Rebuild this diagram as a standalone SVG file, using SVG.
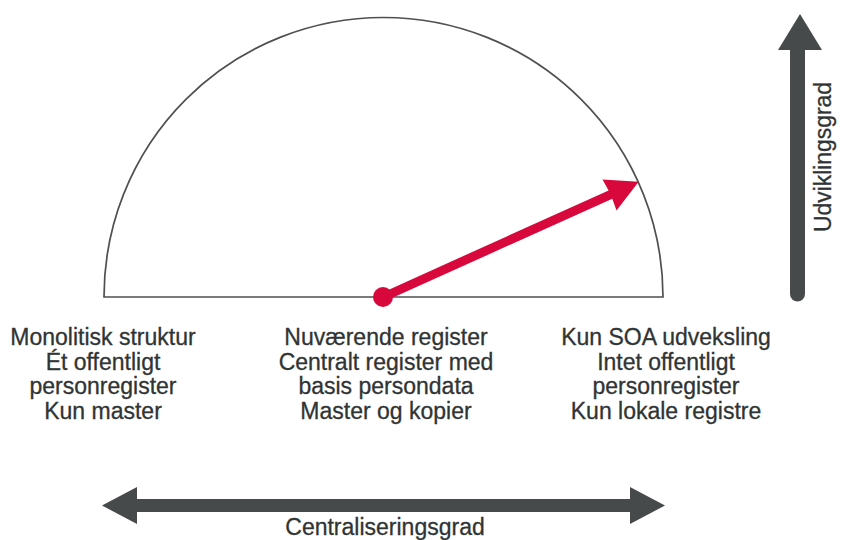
<svg xmlns="http://www.w3.org/2000/svg" width="841" height="540" viewBox="0 0 841 540">
  <style>
    .lbl { font-family: "Liberation Sans", Arial, sans-serif; font-size: 23px; fill: #303434; stroke: #303434; stroke-width: 0.3; text-anchor: middle; }
    .axis { fill: #464a4a; }
    .gauge { fill: none; stroke: #505050; stroke-width: 1.7; }
    .needle { fill: #d8083c; }
  </style>
  <rect width="841" height="540" fill="#ffffff"/>

  <!-- half-circle gauge -->
  <g id="gauge">
    <path class="gauge" d="M104 297 A279.5 279.5 0 0 1 663 297 Z"/>
  </g>

  <!-- needle pointing to the current position -->
  <g id="needle" class="needle">
    <g transform="translate(383.5 297) rotate(-24.3)">
      <polygon points="0,-4.5 249,-4.5 248,-17 280,0 248,17 249,4.5 0,4.5"/>
    </g>
    <circle cx="383" cy="297" r="10"/>
  </g>

  <!-- column labels -->
  <g id="left-label">
    <text class="lbl" x="103" y="345">Monolitisk struktur</text>
    <text class="lbl" x="103" y="369.5">Ét offentligt</text>
    <text class="lbl" x="103" y="394">personregister</text>
    <text class="lbl" x="103" y="418.5">Kun master</text>
  </g>
  <g id="middle-label">
    <text class="lbl" x="386" y="345">Nuværende register</text>
    <text class="lbl" x="386" y="369.5">Centralt register med</text>
    <text class="lbl" x="386" y="394">basis persondata</text>
    <text class="lbl" x="386" y="418.5">Master og kopier</text>
  </g>
  <g id="right-label">
    <text class="lbl" x="666" y="345">Kun SOA udveksling</text>
    <text class="lbl" x="666" y="369.5">Intet offentligt</text>
    <text class="lbl" x="666" y="394">personregister</text>
    <text class="lbl" x="666" y="418.5">Kun lokale registre</text>
  </g>

  <!-- axes -->
  <g id="axes">
    <g id="vertical-axis">
      <path class="axis" d="M790 48 L805 48 L805 294 A7.5 7.5 0 0 1 790 294 Z"/>
      <polygon class="axis" points="800,14 822,50 778,50"/>
      <text class="lbl" transform="translate(831 157) rotate(-90)" x="0" y="0" font-size="21" textLength="150" lengthAdjust="spacingAndGlyphs">Udviklingsgrad</text>
    </g>
    <g id="horizontal-axis">
      <rect class="axis" x="134" y="499" width="500" height="13"/>
      <polygon class="axis" points="102,505.5 137,487 137,524"/>
      <polygon class="axis" points="665,505.5 630,487 630,524"/>
      <text class="lbl" x="385" y="535">Centraliseringsgrad</text>
    </g>
  </g>
</svg>
